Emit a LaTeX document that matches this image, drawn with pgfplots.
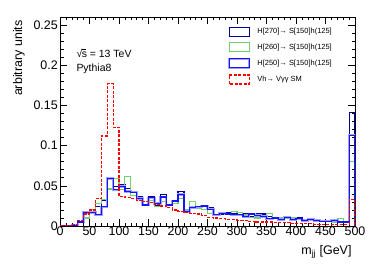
\documentclass[border=0pt]{standalone}
\usepackage{pgfplots}
\pgfplotsset{compat=1.18}
\usepackage{pgfplotstable}
\usepackage{fontspec}
\setmainfont{Liberation Sans}
\definecolor{navy}{RGB}{0,0,150}
\definecolor{lgreen}{RGB}{110,210,110}
\definecolor{bblue}{RGB}{20,20,255}
\definecolor{halo}{RGB}{160,160,255}
\definecolor{sred}{RGB}{255,0,0}

\pgfplotstableread{
x sm h270 h260 h250
0 0 0 0 0
10 0 0 0 0
20 0.002 0.001 0.001 0.001
30 0.007 0.005 0.005 0.005
40 0.015 0.017 0.010 0.017
50 0.020 0.018 0.021 0.017
60 0.034 0.024 0.028 0.014
70 0.112 0.032 0.033 0.024
80 0.177 0.058 0.046 0.059
90 0.123 0.049 0.059 0.045
100 0.037 0.051 0.045 0.049
110 0.035 0.047 0.062 0.043
120 0.034 0.042 0.038 0.042
130 0.032 0.036 0.035 0.034
140 0.030 0.026 0.027 0.026
150 0.029 0.036 0.032 0.035
160 0.027 0.026 0.024 0.028
170 0.025 0.039 0.030 0.036
180 0.023 0.026 0.026 0.026
190 0.020 0.028 0.028 0.031
200 0.018 0.043 0.034 0.039
210 0.017 0.018 0.020 0.018
220 0.016 0.024 0.031 0.023
230 0.015 0.023 0.022 0.024
240 0.013 0.024 0.020 0.025
250 0.011 0.023 0.015 0.021
260 0.010 0.014 0.014 0.014
270 0.009 0.015 0.015 0.016
280 0.008 0.017 0.016 0.015
290 0.008 0.016 0.018 0.014
300 0.007 0.013 0.017 0.014
310 0.007 0.015 0.014 0.012
320 0.006 0.012 0.011 0.015
330 0.005 0.015 0.010 0.013
340 0.005 0.015 0.012 0.012
350 0.005 0.012 0.016 0.009
360 0.004 0.010 0.010 0.010
370 0.004 0.009 0.010 0.008
380 0.004 0.012 0.009 0.011
390 0.003 0.009 0.010 0.008
400 0.003 0.010 0.009 0.009
410 0.003 0.008 0.008 0.007
420 0.003 0.009 0.007 0.008
430 0.002 0.008 0.008 0.007
440 0.002 0.007 0.007 0.006
450 0.002 0.006 0.006 0.006
460 0.002 0.006 0.005 0.007
470 0.002 0.006 0.009 0.005
480 0.002 0.006 0.006 0.005
490 0.033 0.141 0.080 0.113
500 0.033 0.141 0.080 0.113
500 0 0 0 0
}\hdata

\begin{document}
\begin{tikzpicture}
\begin{axis}[
  name=ax,
  at={(0,0)}, anchor=south west,
  scale only axis, width=295bp, height=209bp,
  xmin=0, xmax=500, ymin=0, ymax=0.26,
  xtick={0,50,...,500}, minor x tick num=4,
  ytick={0,0.05,0.1,0.15,0.2,0.25}, minor y tick num=4,
  yticklabels={0,0.05,0.1,0.15,0.2,0.25},
  tick align=inside, xtick pos=both, ytick pos=both,
  major tick length=7bp, minor tick length=3.5bp,
  tick style={black, line width=0.6bp},
  axis line style={line width=0.8bp},
  /pgf/number format/assume math mode=true,
  ticklabel style={font=\fontsize{12.5}{14}\selectfont},
  xticklabel style={inner sep=1bp},
  yticklabel style={inner sep=2bp},
  legend cell align=left,
  legend style={at={(rel axis cs:0.569,0.9545)}, anchor=north west,
    draw=none, fill=none, inner sep=0pt, row sep=5.3bp, column sep=7bp,
    font=\fontsize{7.5}{8.5}\selectfont,
    nodes={inner sep=0pt}},
]
\addplot[const plot, navy, line width=1.2bp,
  legend image code/.code={\draw[navy, line width=1.2bp] (0bp,-4.5bp) rectangle (20bp,4.5bp);}] table[x=x,y=h270]{\hdata};
\addlegendentry{H[270]→ S[150]h(125]}
\addplot[const plot, lgreen, line width=1.1bp,
  legend image code/.code={\draw[lgreen, line width=1.1bp] (0bp,-4.5bp) rectangle (20bp,4.5bp);}] table[x=x,y=h260]{\hdata};
\addlegendentry{H[260]→ S[150]h(125]}
\addplot[const plot, halo, line width=2.4bp, forget plot] table[x=x,y=h250]{\hdata};
\addplot[const plot, bblue, line width=1.2bp,
  legend image code/.code={\draw[halo, line width=2.4bp] (0bp,-4.5bp) rectangle (20bp,4.5bp); \draw[bblue, line width=1.2bp] (0bp,-4.5bp) rectangle (20bp,4.5bp);}] table[x=x,y=h250]{\hdata};
\addlegendentry{H[250]→ S[150]h(125]}
\addplot[const plot, draw=sred, line width=1.2bp, line cap=butt, dash pattern=on 3bp off 1.5bp,
  legend image code/.code={\draw[draw=sred, line width=1.2bp, line cap=butt, dash pattern=on 3bp off 1.5bp] (0bp,-4.5bp) rectangle (20bp,4.5bp);}] table[x=x,y=sm]{\hdata};
\addlegendentry{Vh→ Vγγ SM}
\end{axis}
\node[rotate=90, anchor=base east, font=\fontsize{12.5}{14}\selectfont] at ([xshift=-38bp]ax.north west) {arbitrary units};
\node[anchor=base east, font=\fontsize{12.5}{14}\selectfont] at ([yshift=-28bp]ax.south east) {m\textsubscript{jj} [GeV]};
\node[anchor=west, font=\fontsize{10.5}{12}\selectfont] at ([xshift=13bp,yshift=-36bp]ax.north west) {√\kern-0.5pt\raisebox{0pt}[0pt][0pt]{\rlap{\rule[7.4pt]{4.6pt}{0.4pt}}}s = 13 TeV};
\node[anchor=west, font=\fontsize{10.5}{12}\selectfont] at ([xshift=13bp,yshift=-52bp]ax.north west) {Pythia8};
\pgfresetboundingbox
\useasboundingbox (-60bp,-43bp) rectangle (314bp,226bp);
\end{tikzpicture}
\end{document}
